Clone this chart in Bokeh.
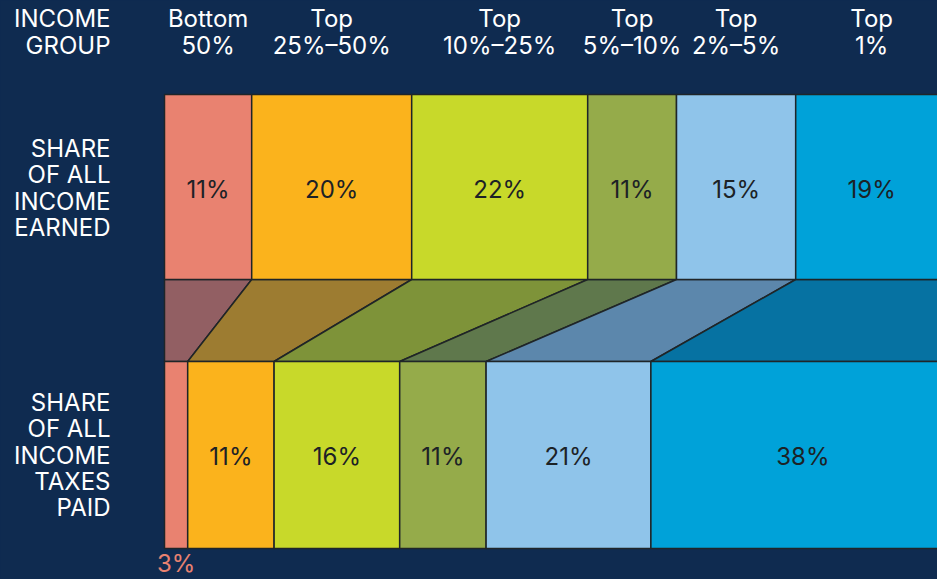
from bokeh.plotting import figure
from bokeh.models import Range1d
from bokeh.embed import file_html
from bokeh.resources import INLINE
from bokeh.core.properties import value

# ---- data ----
group_line1 = ["Bottom", "Top", "Top", "Top", "Top", "Top"]
group_line2 = ["50%", "25%–50%", "10%–25%", "5%–10%", "2%–5%", "1%"]
earned_share = [10.9, 20.0, 22.0, 11.1, 14.9, 19.0]
taxes_share = [2.9, 10.8, 15.7, 10.8, 20.6, 38.0]
earned_labels = ["11%", "20%", "22%", "11%", "15%", "19%"]
taxes_labels = ["3%", "11%", "16%", "11%", "21%", "38%"]
row_earned = ["SHARE", "OF ALL", "INCOME", "EARNED"]
row_taxes = ["SHARE", "OF ALL", "INCOME", "TAXES", "PAID"]
header_left = ["INCOME", "GROUP"]

colors = ["#e98270", "#fbb31c", "#c8d92a", "#95ab4a", "#8fc4ea", "#00a2d9"]
BG = "#0f2b50"
EDGE = "#1f2528"
FONT = "Inter"


def cum(vals):
    out, s = [], 0.0
    for v in vals:
        out.append(s)
        s += v
    return out, [a + b for a, b in zip(out, vals)]


e0, e1 = cum(earned_share)
t0, t1 = cum(taxes_share)

# layout (pixel-like y units, percent x units: 8 px per percent, 0% at x=164)
Y_E_TOP, Y_E_BOT = 94, 279
Y_T_TOP, Y_T_BOT = 361, 548

p = figure(width=937, height=579, output_backend="svg", toolbar_location=None,
           x_range=Range1d(-20.5, 96.625), y_range=Range1d(579, 0),
           min_border=0, background_fill_color=BG, border_fill_color=BG)
p.axis.visible = False
p.grid.visible = False
p.outline_line_color = None

# connectors
xs = [[a, b, d, c] for a, b, c, d in zip(e0, e1, t0, t1)]
ys = [[Y_E_BOT, Y_E_BOT, Y_T_TOP, Y_T_TOP] for _ in xs]
p.patches(xs=xs, ys=ys, fill_color=colors, fill_alpha=0.6,
          line_color=EDGE, line_width=1.5)

# bars
p.quad(left=e0, right=e1, top=Y_E_TOP, bottom=Y_E_BOT, fill_color=colors,
       line_color=EDGE, line_width=1.5)
p.quad(left=t0, right=t1, top=Y_T_TOP, bottom=Y_T_BOT, fill_color=colors,
       line_color=EDGE, line_width=1.5)

# bar labels
emid = [(a + b) / 2 for a, b in zip(e0, e1)]
tmid = [(a + b) / 2 for a, b in zip(t0, t1)]
lab = dict(text_align="center", text_baseline="middle",
           text_font=value(FONT), text_font_size="24px")
p.text(x=emid, y=[189] * 6, text=earned_labels, text_color="#1c2226", **lab)
p.text(x=tmid[1:], y=[456] * 5, text=taxes_labels[1:], text_color="#1c2226", **lab)
p.text(x=[tmid[0]], y=[563], text=[taxes_labels[0]], text_color="#e98270", **lab)

# headers
hd = dict(text_baseline="middle", text_font=value(FONT),
          text_font_size="24px", text_color="white")
p.text(x=emid, y=[18] * 6, text=group_line1, text_align="center", **hd)
p.text(x=emid, y=[45] * 6, text=group_line2, text_align="center", **hd)

XL = (110 - 164) / 8.0
p.text(x=[XL] * 2, y=[18, 45], text=header_left, text_align="right", **hd)
p.text(x=[XL] * 4, y=[148 + 26.4 * i for i in range(4)], text=row_earned,
       text_align="right", **hd)
p.text(x=[XL] * 5, y=[402 + 26.3 * i for i in range(5)], text=row_taxes,
       text_align="right", **hd)

html = file_html(p, INLINE)
html = html.replace("<head>", "<head><style>html,body{background:%s;}</style>" % BG, 1)
open("out.html", "w").write(html)
